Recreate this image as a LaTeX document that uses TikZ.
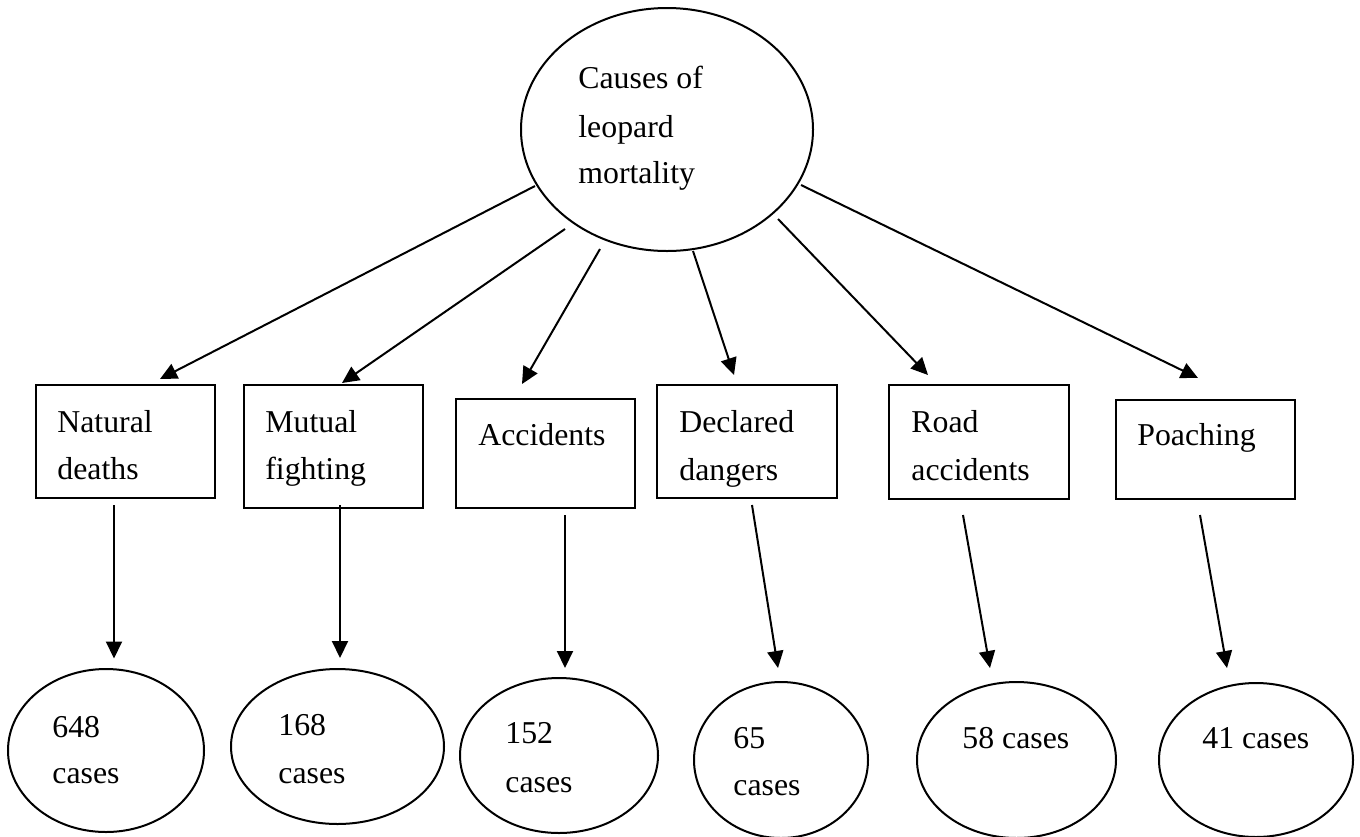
\documentclass[tikz,border=0pt]{standalone}
\usepackage{fontspec}
\setmainfont{Liberation Serif}
\usetikzlibrary{shapes.geometric,arrows.meta,calc}

\begin{document}
\begin{tikzpicture}[x=0.5pt,y=-0.5pt,
  bubble/.style={draw,ellipse,line width=1pt,inner sep=0pt,outer sep=0pt},
  cbox/.style={draw,rectangle,line width=1pt,inner sep=0pt,outer sep=0pt},
  arr/.style={line width=1pt,-{Triangle[length=8.5pt,width=8pt]}},
  lbl/.style={anchor=base west,inner sep=0pt,font=\fontsize{15.9}{19}\selectfont}]

\path[use as bounding box,fill=white] (0,0) rectangle (1360,836);

% root
\node[bubble,minimum width=146pt,minimum height=121.5pt] (top) at (667,129.5) {};
\node[lbl] (top-a) at (578,88) {Causes of};
\node[lbl] (top-b) at (578,137) {leopard};
\node[lbl] (top-c) at (578,183) {mortality};

% causes
\node[cbox,minimum width=89.5pt,minimum height=56.5pt] (nat) at (125.5,441.5) {};
\node[cbox,minimum width=89.5pt,minimum height=61.5pt] (mut) at (333.5,446.5) {};
\node[cbox,minimum width=89.5pt,minimum height=54.5pt] (acc) at (545.5,453.5) {};
\node[cbox,minimum width=90pt,minimum height=56.5pt] (dec) at (747,441.5) {};
\node[cbox,minimum width=90pt,minimum height=57pt] (road) at (979,442) {};
\node[cbox,minimum width=89.5pt,minimum height=49.5pt] (poa) at (1205.5,449.5) {};

\node[lbl] (nat-a) at (57,432) {Natural};
\node[lbl] (nat-b) at (57,479) {deaths};
\node[lbl] (mut-a) at (265,432) {Mutual};
\node[lbl] (mut-b) at (265,479) {fighting};
\node[lbl] (acc-a) at (478,445) {Accidents};
\node[lbl] (dec-a) at (679,432) {Declared};
\node[lbl] (dec-b) at (679,480) {dangers};
\node[lbl] (road-a) at (911,432) {Road};
\node[lbl] (road-b) at (911,480) {accidents};
\node[lbl] (poa-a) at (1137,445) {Poaching};

% counts
\node[bubble,minimum width=98pt,minimum height=81.5pt] (c1) at (106,750.5) {};
\node[bubble,minimum width=106.5pt,minimum height=77.5pt] (c2) at (337.5,746.5) {};
\node[bubble,minimum width=99pt,minimum height=77.5pt] (c3) at (559,755.5) {};
\node[bubble,minimum width=87pt,minimum height=78pt] (c4) at (781,760) {};
\node[bubble,minimum width=99.5pt,minimum height=78pt] (c5) at (1016.5,760) {};
\node[bubble,minimum width=97pt,minimum height=77pt] (c6) at (1256,760) {};

\node[lbl] (c1-a) at (52,737) {648};
\node[lbl] (c1-b) at (52,783) {cases};
\node[lbl] (c2-a) at (278,735) {168};
\node[lbl] (c2-b) at (278,783) {cases};
\node[lbl] (c3-a) at (505,743) {152};
\node[lbl] (c3-b) at (505,792) {cases};
\node[lbl] (c4-a) at (733,748) {65};
\node[lbl] (c4-b) at (733,795) {cases};
\node[lbl] (c5-a) at (962,748) {58 cases};
\node[lbl] (c6-a) at (1202,748) {41 cases};

% root to causes
\draw[arr] ($(top.center)+(-132,56.5)$) -- ($(nat.north)+(34.5,-6)$);
\draw[arr] ($(top.center)+(-102,99.5)$) -- ($(mut.north)+(8.5,-2)$);
\draw[arr] ($(top.center)+(-67,119.5)$) -- ($(acc.north)+(-23.5,-15)$);
\draw[arr] ($(top.center)+(26,121.5)$) -- ($(dec.north)+(-13,-10)$);
\draw[arr] ($(top.center)+(111,89.5)$) -- ($(road.north)+(-51,-10)$);
\draw[arr] ($(top.center)+(134,55.5)$) -- ($(poa.north)+(-7.5,-22)$);

% causes to counts
\draw[arr] ($(nat.south)+(-11.5,7)$) -- ($(c1.north)+(8,-10.5)$);
\draw[arr] ($(mut.south)+(6.5,-3)$) -- ($(c2.north)+(2.5,-11)$);
\draw[arr] ($(acc.south)+(19.5,7)$) -- ($(c3.north)+(6,-10)$);
\draw[arr] ($(dec.south)+(5,7)$) -- ($(c4.north)+(-3,-14)$);
\draw[arr] ($(road.south)+(-16,16)$) -- ($(c5.north)+(-26.5,-14)$);
\draw[arr] ($(poa.south)+(-5.5,16)$) -- ($(c6.north)+(-29,-15)$);
\end{tikzpicture}
\end{document}
